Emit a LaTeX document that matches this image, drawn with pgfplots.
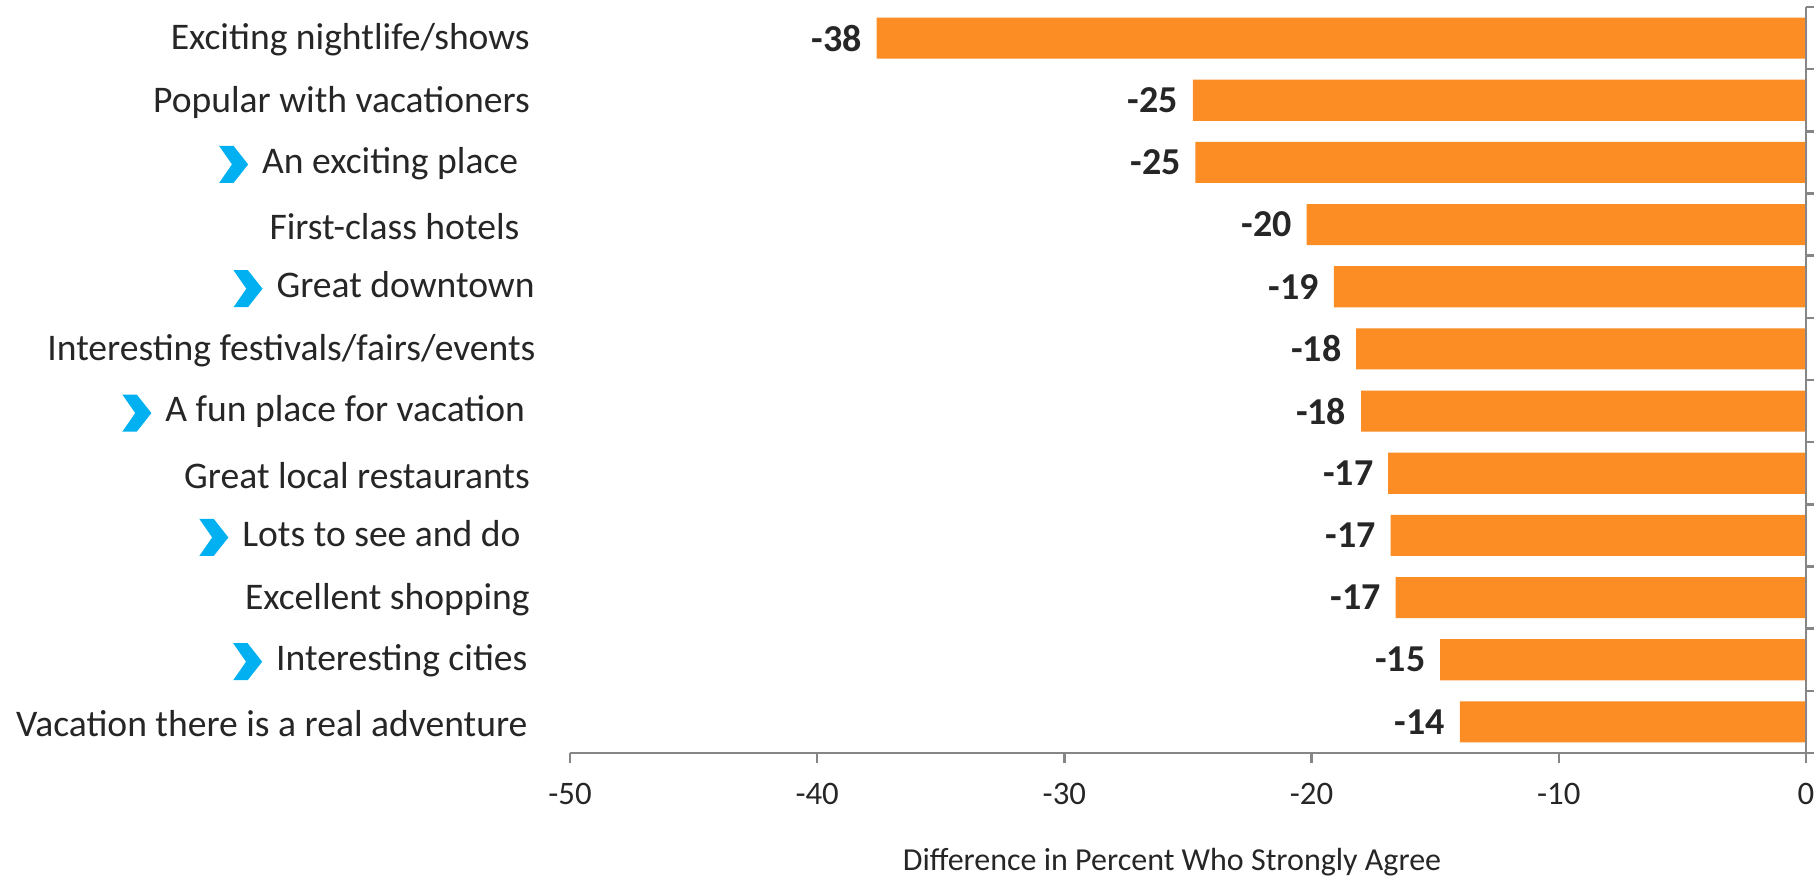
\documentclass[border=0pt]{standalone}
\usepackage{fontspec}
\setmainfont{Carlito}
\usepackage{pgfplots}
\pgfplotsset{compat=1.18}
\definecolor{barorange}{RGB}{252,140,36}
\definecolor{chev}{RGB}{0,176,240}
\definecolor{txt}{RGB}{38,38,38}
\definecolor{axgray}{RGB}{134,134,134}
\newcommand{\chevron}{\raisebox{-2.4pt}{\tikz\fill[chev] (0,9.25pt)--(3.6pt,9.25pt)--(7.25pt,4.625pt)--(3.6pt,0pt)--(0pt,0pt)--(3.2pt,4.625pt)--cycle;}\hspace{3.5pt}}
\begin{document}
\begin{tikzpicture}
\begin{axis}[
  at={(0,0)}, anchor=south west,
  width=309pt, height=186.5pt, scale only axis,
  xbar, bar width=0.66,
  xmin=-50, xmax=0, ymin=-0.5, ymax=11.5,
  y dir=reverse,
  axis line style={draw=none},
  xtick={-50,-40,...,0},
  xtick pos=lower,
  ytick pos=right,
  yticklabel pos=left,
  xtick style={draw=axgray, line width=0.6pt},
  major tick length=2.5pt,
  tick align=outside,
  ytick={0,...,11},
  ytick style={draw=none},
  minor ytick={-0.5,0.5,...,11.5},
  minor tick length=2pt,
  minor y tick style={draw=axgray, line width=0.6pt},
  yticklabels={
    {Exciting nightlife/shows},
    {Popular with vacationers},
    {\chevron An exciting place\kern2.9pt},
    {First-class hotels\kern2.6pt},
    {\chevron Great downtown\kern-1.2pt},
    {Interesting festivals/fairs/events\kern-1.4pt},
    {\chevron A fun place for vacation\kern1.2pt},
    {Great local restaurants},
    {\chevron Lots to see and do\kern2.3pt},
    {Excellent shopping},
    {\chevron Interesting cities\kern0.6pt},
    {Vacation there is a real adventure\kern0.6pt}},
  yticklabel style={font=\fontsize{9.4}{11}\selectfont, text=txt, anchor=east, inner sep=0pt, xshift=-7.35pt, yshift=-0.5pt},
  xticklabel style={font=\fontsize{8.2}{10}\selectfont, text=txt, inner sep=0pt, anchor=center, yshift=-7.75pt},
  /pgf/number format/assume math mode=true,
  xlabel={Difference in Percent Who Strongly Agree},
  xlabel style={font=\fontsize{8}{10}\selectfont, text=txt, inner sep=0pt, anchor=center, at={(axis description cs:0.5,0)}, yshift=-27.25pt, xshift=-4pt},
  point meta=x,
  nodes near coords={\pgfmathprintnumber[fixed,precision=0]{\pgfplotspointmeta}},
  nodes near coords style={font=\fontsize{9.5}{11}\selectfont\bfseries, text=txt, anchor=east, inner sep=0pt, xshift=-3.5pt},
  clip=false,
]
\addplot[fill=barorange, draw=none] coordinates {
  (-37.6,0) (-24.8,1) (-24.7,2) (-20.2,3) (-19.1,4) (-18.2,5)
  (-18.0,6) (-16.9,7) (-16.8,8) (-16.6,9) (-14.8,10) (-14.0,11)
};
\draw[axgray, line width=0.6pt] (axis cs:-50,11.5) -- (axis cs:0,11.5) -- (axis cs:0,-0.5);
\end{axis}
\pgfresetboundingbox
\path[use as bounding box] (-142.5pt,-31pt) rectangle (311pt,188.25pt);
\end{tikzpicture}
\end{document}
